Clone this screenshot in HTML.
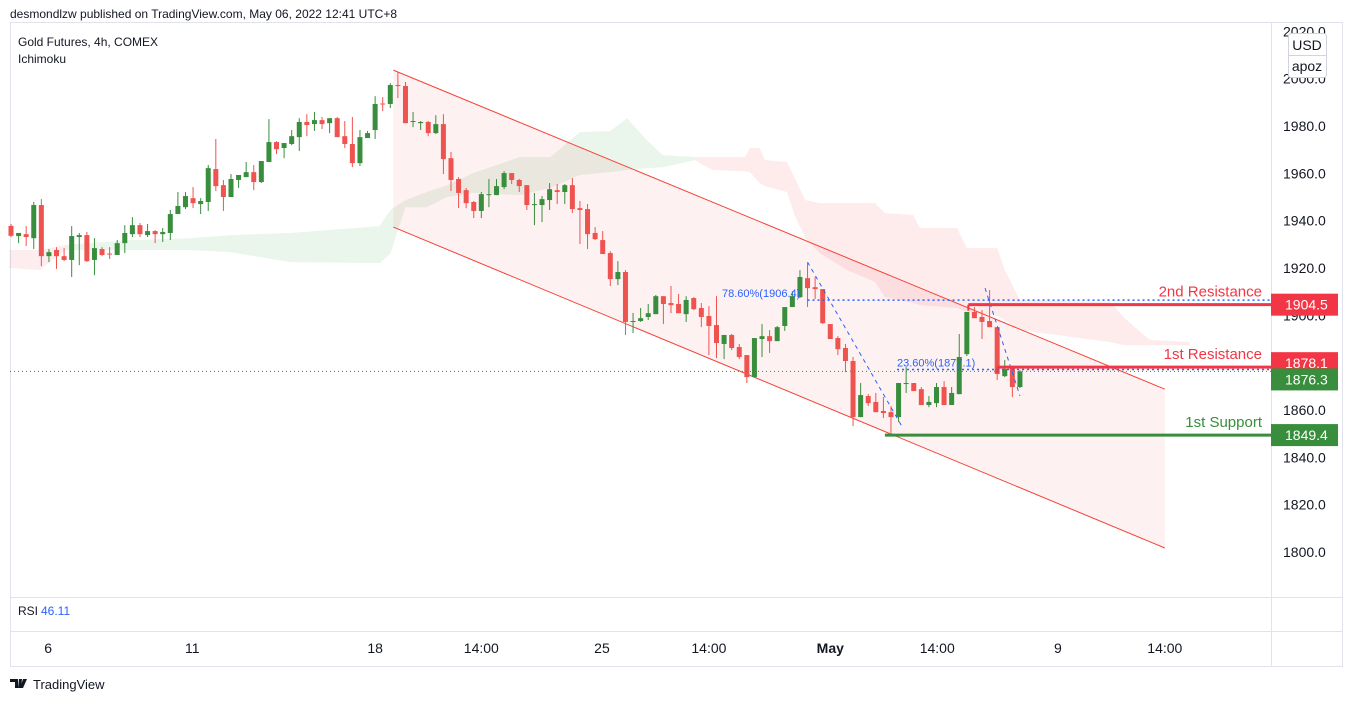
<!DOCTYPE html>
<html><head><meta charset="utf-8"><style>
body{margin:0;background:#fff;font-family:"Liberation Sans",sans-serif;}
svg{display:block}
</style></head><body>
<svg id="chart" width="1353" height="701" xmlns="http://www.w3.org/2000/svg">
<text x="10" y="18" font-size="12" fill="#131722">desmondlzw published on TradingView.com, May 06, 2022 12:41 UTC+8</text>
<rect x="10.5" y="22.5" width="1332" height="644" fill="none" stroke="#e0e3eb"/>
<line x1="1271.5" y1="22" x2="1271.5" y2="666" stroke="#e0e3eb"/>
<line x1="10" y1="597.5" x2="1343" y2="597.5" stroke="#e0e3eb"/>
<line x1="10" y1="631.5" x2="1343" y2="631.5" stroke="#e0e3eb"/>
<g id="cloud"></g>
<g id="channel"></g>
<g id="candles"></g>
<g id="overlay"></g>
<g id="yaxis"></g>
<g id="xaxis"></g>
<text x="18" y="46" font-size="12" fill="#131722">Gold Futures, 4h, COMEX</text>
<text x="18" y="63" font-size="12" fill="#131722">Ichimoku</text>
<text x="18" y="615" font-size="12" fill="#131722">RSI</text>
<text x="41" y="615" font-size="12" fill="#2962ff">46.11</text>
<g>
<path d="M10 679h8v9h-3v-6h-5z M19 679h3l-1 9h-3z M23 679h4l-4 9h-3z" fill="#131722"/>
<text x="33" y="689" font-size="13" fill="#131722">TradingView</text>
</g>
</svg>
<script>
const opens=[1937.8,1933.5,1934.3,1932.6,1946.6,1925.0,1927.6,1925.0,1923.4,1933.1,1933.9,1923.4,1928.0,1926.1,1925.5,1930.5,1934.3,1938.1,1933.9,1935.6,1934.3,1934.8,1942.8,1945.7,1949.5,1947.0,1947.9,1961.8,1955.0,1950.0,1957.2,1958.4,1960.5,1956.3,1964.8,1973.2,1970.7,1972.4,1975.3,1981.7,1980.8,1982.5,1981.2,1983.3,1975.7,1972.4,1964.3,1974.9,1978.3,1989.5,1989.3,1997.3,1996.9,1981.7,1981.2,1981.7,1977.0,1980.8,1966.4,1957.6,1952.9,1947.9,1944.1,1950.8,1950.8,1954.2,1960.1,1957.2,1955.0,1946.6,1946.6,1948.7,1952.9,1952.1,1955.0,1945.3,1944.9,1934.8,1931.8,1926.3,1915.3,1918.3,1897.2,1897.6,1899.3,1900.5,1908.1,1905.2,1904.8,1900.5,1907.3,1903.1,1899.7,1895.9,1887.9,1891.7,1886.6,1883.2,1873.9,1890.0,1891.2,1889.1,1895.5,1903.5,1907.7,1915.7,1911.9,1911.1,1896.3,1890.4,1886.2,1880.7,1857.0,1865.9,1863.4,1859.6,1859.1,1857.0,1871.0,1871.4,1868.8,1862.1,1862.9,1869.7,1862.1,1866.7,1883.6,1901.4,1899.3,1897.6,1895.0,1874.3,1878.1,1869.7];
const closes=[1933.6,1934.8,1933.1,1946.6,1925.0,1926.7,1925.0,1923.4,1933.5,1933.9,1922.9,1928.4,1925.5,1925.7,1930.5,1934.8,1938.1,1934.3,1935.6,1934.3,1935.2,1942.8,1946.2,1950.4,1947.4,1948.3,1962.2,1954.6,1950.0,1957.6,1959.3,1960.5,1956.3,1965.2,1973.2,1970.2,1972.8,1975.7,1981.7,1980.4,1982.5,1980.8,1983.3,1975.3,1972.4,1964.3,1975.3,1977.0,1989.3,1989.1,1997.3,1996.9,1981.2,1982.1,1981.7,1977.0,1980.8,1966.0,1957.2,1951.7,1947.4,1944.1,1951.2,1951.2,1954.6,1960.1,1957.2,1954.6,1946.6,1947.0,1949.1,1953.3,1952.1,1955.0,1944.9,1944.5,1934.3,1932.2,1925.9,1915.3,1918.3,1897.2,1897.6,1898.8,1900.9,1908.1,1904.8,1904.3,1900.9,1906.5,1902.6,1899.3,1895.5,1888.3,1891.7,1886.2,1882.4,1873.9,1890.4,1891.2,1889.1,1895.0,1903.5,1908.1,1916.2,1911.5,1911.1,1896.7,1890.0,1885.7,1880.7,1857.0,1866.3,1862.9,1859.1,1858.7,1857.0,1871.4,1871.4,1868.0,1862.1,1863.4,1869.7,1862.1,1867.2,1882.4,1901.4,1898.8,1897.2,1895.0,1875.2,1877.3,1869.7,1876.3];
const highs=[1938.6,1934.8,1937.7,1947.9,1949.1,1928.0,1928.8,1928.4,1937.7,1934.8,1935.2,1932.6,1928.8,1928.8,1931.8,1938.1,1941.5,1939.0,1938.6,1936.0,1936.9,1944.5,1952.1,1952.1,1954.2,1949.5,1963.5,1974.5,1957.2,1959.7,1959.3,1964.8,1963.5,1965.2,1982.9,1973.6,1972.8,1978.3,1983.3,1985.0,1985.9,1983.8,1983.3,1983.8,1982.1,1983.8,1978.3,1977.9,1992.6,1992.2,1998.1,2002.8,1998.6,1985.9,1982.1,1982.1,1984.6,1985.0,1969.0,1958.4,1953.8,1948.3,1952.1,1957.6,1957.6,1960.9,1960.1,1957.6,1955.0,1951.7,1950.4,1955.9,1955.5,1955.5,1958.0,1948.3,1947.0,1937.3,1935.6,1927.1,1922.9,1919.1,1901.0,1903.1,1904.8,1908.6,1908.1,1912.4,1909.0,1908.1,1907.7,1905.2,1903.9,1908.1,1891.7,1892.1,1887.9,1883.2,1890.4,1896.3,1893.8,1895.5,1903.5,1910.2,1919.1,1922.1,1916.2,1911.1,1896.3,1891.2,1887.9,1882.4,1871.4,1866.7,1867.2,1865.5,1861.7,1871.4,1878.1,1871.4,1869.7,1865.9,1871.4,1872.2,1869.7,1892.1,1901.4,1903.5,1902.2,1910.7,1895.0,1881.1,1878.1,1876.9];
const lows=[1933.1,1930.5,1929.3,1928.0,1920.8,1922.5,1919.6,1922.9,1916.2,1921.2,1922.5,1917.0,1925.0,1923.8,1925.5,1926.3,1933.1,1933.1,1933.1,1930.5,1931.0,1931.8,1942.8,1944.9,1945.3,1942.8,1944.1,1952.5,1944.1,1950.0,1953.8,1958.4,1952.9,1955.9,1964.8,1968.1,1966.4,1971.9,1969.4,1975.7,1977.9,1978.7,1977.0,1975.3,1970.7,1962.6,1963.1,1974.9,1974.5,1986.3,1987.6,1991.8,1981.2,1979.5,1978.3,1975.7,1976.6,1959.7,1952.5,1945.3,1945.3,1941.1,1941.1,1945.7,1950.8,1953.3,1955.5,1952.1,1944.5,1938.1,1939.4,1944.5,1947.0,1947.0,1943.2,1930.1,1928.0,1931.8,1925.9,1912.4,1912.8,1891.7,1892.5,1897.2,1898.0,1900.5,1896.3,1900.9,1900.9,1897.2,1902.2,1895.0,1883.2,1881.9,1881.5,1885.3,1881.5,1871.4,1873.9,1882.4,1884.1,1889.1,1893.4,1903.5,1907.3,1903.5,1906.9,1896.3,1890.0,1883.2,1876.0,1853.2,1857.0,1861.7,1859.1,1856.6,1849.4,1854.9,1867.2,1868.0,1862.1,1861.2,1861.2,1862.1,1862.1,1866.7,1882.8,1898.8,1890.0,1895.0,1872.7,1873.9,1865.5,1869.3];
// Ichimoku cloud (bar index, upper price, lower price)
const greenIdx=[7.1,15.7,23.6,28.9,36.8,48.6,50,52,54.8,57.5,60.9,67.1,71.1,75.0,79.0,81.2,83.8,85.9,90.2];
const greenTop=[1929.7,1931.8,1932.6,1933.9,1934.8,1937.7,1944.5,1948.7,1952.1,1955.0,1960.1,1966.9,1966.9,1977.4,1977.9,1983.3,1974.1,1967.7,1966.9];
const greenBot=[1927.6,1927.6,1927.6,1926.7,1922.5,1922.1,1926.0,1945.7,1945.7,1950.0,1951.7,1950.8,1953.8,1959.3,1960.5,1961.4,1962.2,1962.6,1965.6];
const redIdx=[90.2,90.8,92.5,96.8,97.4,98.7,99.4,102.3,103.3,104.7,106.6,110.2,113.9,115.2,118.9,119.8,124.7,126.0,130.0,131.0,133.0,144.9,146.8,150.1,155.4];
const redTop=[1966.9,1966.9,1966.9,1966.9,1970.7,1970.7,1965.6,1964.8,1958.0,1948.7,1947.4,1947.4,1947.4,1943.2,1942.4,1936.9,1936.9,1928.4,1928.4,1919.1,1906.4,1905.6,1898.8,1889.6,1888.7];
const redBot=[1965.6,1964.3,1961.4,1960.8,1960.5,1955.9,1954.6,1952.1,1942.4,1932.6,1926.3,1919.1,1914.1,1907.7,1905.2,1904.3,1903.1,1901.4,1899.7,1898.0,1893.8,1888.7,1887.4,1887.4,1887.4];
const leftRedIdx=[-0.2,3.8,7.1];
const leftRedTop=[1927.6,1927.6,1929.7];
const leftRedBot=[1920.0,1919.1,1927.6];
const priceTicks=[2020,2000,1980,1960,1940,1920,1900,1880,1860,1840,1820,1800];
const timeLabels=["6","11","18","14:00","25","14:00","May","14:00","9","14:00"];
const timeLabelIdx=[4.9,23.9,48.0,62.0,77.9,92.0,108.0,122.1,138.0,152.1];
const levelNames=["2nd Resistance","1st Resistance","1st Support"];
const levelPrices=[1904.5,1878.1,1849.4];
const levelStartIdx=[126.2,130.0,115.2];
const lastPrice=1876.3;

const X0=11,STEP=7.586,PY0=552,PPP=2.3667;
const xs=i=>X0+i*STEP;
const ys=p=>PY0-(p-1800)*PPP;
const NS="http://www.w3.org/2000/svg";
function mk(tag,attrs,parent){const e=document.createElementNS(NS,tag);for(const k in attrs)e.setAttribute(k,attrs[k]);parent.appendChild(e);return e;}

const cloud=document.getElementById('cloud');
function band(idx,top,bot,color,name){
  let pts=idx.map((v,k)=>xs(v).toFixed(1)+','+ys(top[k]).toFixed(1));
  for(let k=idx.length-1;k>=0;k--)pts.push(xs(idx[k]).toFixed(1)+','+ys(bot[k]).toFixed(1));
  const p=mk('polygon',{points:pts.join(' '),fill:color},cloud);
  
  
}
band(leftRedIdx,leftRedTop,leftRedBot,'rgba(242,54,69,0.09)','cloud-bearish-left');
band(greenIdx,greenTop,greenBot,'rgba(67,160,71,0.11)','cloud-bullish');
band(redIdx,redTop,redBot,'rgba(242,54,69,0.10)','cloud-bearish');

const ch=document.getElementById('channel');
const cA=[50.4,2003.6,1937.3],cB=[152.1,1868.8,1801.7];
const cf=mk('polygon',{points:`${xs(cA[0])},${ys(cA[1])} ${xs(cB[0])},${ys(cB[1])} ${xs(cB[0])},${ys(cB[2])} ${xs(cA[0])},${ys(cA[2])}`,fill:'rgba(242,54,69,0.07)'},ch);


const cu=mk('line',{x1:xs(cA[0]),y1:ys(cA[1]),x2:xs(cB[0]),y2:ys(cB[1]),stroke:'#f44336','stroke-width':1},ch);


const cl=mk('line',{x1:xs(cA[0]),y1:ys(cA[2]),x2:xs(cB[0]),y2:ys(cB[2]),stroke:'#f44336','stroke-width':1},ch);



const cg=document.getElementById('candles');
for(let i=0;i<opens.length;i++){
  const up=closes[i]>=opens[i];const col=up?'#388e3c':'#ef5350';
  const x=xs(i);
  const g=mk('g',{},cg);
  
  
  mk('line',{x1:x,y1:ys(highs[i]),x2:x,y2:ys(lows[i]),stroke:col,'stroke-width':1},g);
  const t=ys(Math.max(opens[i],closes[i])),b=ys(Math.min(opens[i],closes[i]));
  mk('rect',{x:x-2.5,y:t,width:5,height:Math.max(1,b-t),fill:col},g);
}

const ov=document.getElementById('overlay');
const lp=mk('line',{x1:10,y1:ys(lastPrice),x2:1271,y2:ys(lastPrice),stroke:'#388e3c','stroke-width':1,'stroke-dasharray':'1 3'},ov);


const fibP=[1906.4,1877.1],fibS=[105.0,116.8],fibT=["78.60%(1906.4)","23.60%(1877.1)"],fibTx=[722,897];
for(let k=0;k<2;k++){
  const l=mk('line',{x1:xs(fibS[k]),y1:ys(fibP[k]),x2:1271,y2:ys(fibP[k]),stroke:'#2962ff','stroke-width':1.5,'stroke-dasharray':'2 3'},ov);
  
  
  const t=mk('text',{x:fibTx[k],y:ys(fibP[k])-3,'font-size':11,fill:'#2962ff'},ov);t.textContent=fibT[k];
  
  
}
const fd1=mk('line',{x1:xs(105.0),y1:ys(1922.5),x2:xs(117.6),y2:ys(1852.2),stroke:'#2962ff','stroke-width':1,'stroke-dasharray':'4 4'},ov);


const fd2=mk('line',{x1:xs(128.4),y1:ys(1911.5),x2:xs(133.0),y2:ys(1866),stroke:'#2962ff','stroke-width':1,'stroke-dasharray':'4 4'},ov);


for(let k=0;k<3;k++){
  const col=k<2?'#f23645':'#388e3c';const y=ys(levelPrices[k]);
  const l=mk('line',{x1:xs(levelStartIdx[k]),y1:y,x2:1271,y2:y,stroke:col,'stroke-width':3},ov);
  
  
  if(k<2){const v=mk('line',{x1:xs(levelStartIdx[k]),y1:y,x2:xs(levelStartIdx[k]),y2:y+6,stroke:col,'stroke-width':2},ov);
    
    }
  const t=mk('text',{x:1262,y:y-8,'font-size':15,fill:col,'text-anchor':'end'},ov);t.textContent=levelNames[k];
  
  
}

const ya=document.getElementById('yaxis');
priceTicks.forEach(p=>{const t=mk('text',{x:1283,y:ys(p)+5,'font-size':14,fill:'#131722'},ya);t.textContent=p.toFixed(1);
  
  });
const tagP=[1904.5,1878.1,1876.3,1849.4],tagC=['#f23645','#f23645','#388e3c','#388e3c'];
tagP.forEach((p,k)=>{let y=ys(p);if(k==1)y-=4;if(k==2)y+=8;
  const g=mk('g',{},ya);
  
  
  mk('rect',{x:1271,y:y-11,width:67,height:22,fill:tagC[k]},g);
  const t=mk('text',{x:1285,y:y+5,'font-size':14,fill:'#fff'},g);t.textContent=p.toFixed(1);});
const ub=mk('g',{},ya);


mk('rect',{x:1288.5,y:33.5,width:38,height:44,rx:3,fill:'#fff',stroke:'#d1d4dc'},ub);
mk('line',{x1:1289,y1:55.5,x2:1326,y2:55.5,stroke:'#d1d4dc'},ub);
const u1=mk('text',{x:1307,y:50,'font-size':14,fill:'#131722','text-anchor':'middle'},ub);u1.textContent='USD';
const u2=mk('text',{x:1307,y:71,'font-size':14,fill:'#131722','text-anchor':'middle'},ub);u2.textContent='apoz';

const xa=document.getElementById('xaxis');
timeLabels.forEach((s,k)=>{const t=mk('text',{x:xs(timeLabelIdx[k]),y:653,'font-size':14,fill:'#131722','text-anchor':'middle','font-weight':s==='May'?'bold':'normal'},xa);t.textContent=s;
  
  });
</script>
</body></html>
